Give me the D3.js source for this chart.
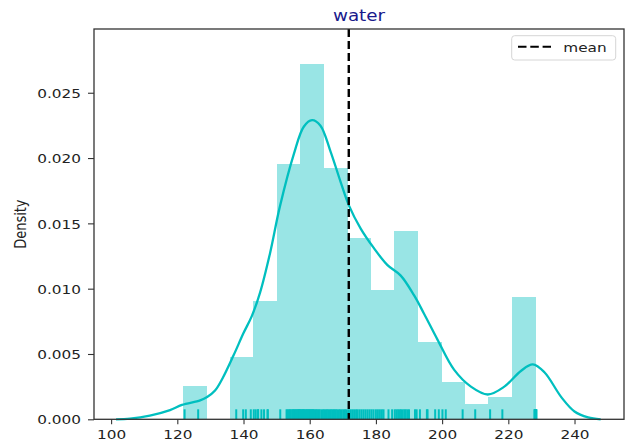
<!DOCTYPE html>
<html>
<head>
<meta charset="utf-8">
<script src="https://cdn.jsdelivr.net/npm/d3@7"></script>
<style>
  body { margin: 0; background: #fff; }
  text { font-family: "DejaVu Sans", sans-serif; fill: #222; }
</style>
</head>
<body>
<svg width="639" height="444"></svg>
<script>
// histogram bins (edges) and density heights
let binEdges = [121.6, 128.7, 135.8, 142.9, 150.0, 157.1, 164.2, 171.3, 178.4, 185.5, 192.6, 199.7, 206.8, 213.9, 221.0, 228.1];
let binDensity = [0.00255, 0, 0.00477, 0.00906, 0.01955, 0.02718, 0.01924, 0.01386, 0.0099, 0.01442, 0.00592, 0.00286, 0.00115, 0.00171, 0.00934];

// kde curve samples
let kdeX = [101.5, 105.7, 111.7, 117.8, 121.4, 126.9, 129.0, 131.4, 133.8, 137.0, 140.0, 142.5, 145.0, 148.0, 151.0, 155.2, 158.2, 160.7, 163.2, 166.3, 169.3, 171.8, 175.4, 179.4, 183.5, 187.5, 191.5, 194.5, 198.6, 203.6, 208.7, 213.8, 218.8, 223.8, 227.4, 230.9, 236.0, 240.0, 244.1, 247.9];
let kdeY = [0.0, 0.00005, 0.00028, 0.0007, 0.0011, 0.00145, 0.0017, 0.0022, 0.0032, 0.0049, 0.0066, 0.0079, 0.0097, 0.0127, 0.0163, 0.0203, 0.0224, 0.0229, 0.0225, 0.0205, 0.0182, 0.0164, 0.0146, 0.0131, 0.0118, 0.011, 0.0095, 0.0081, 0.0061, 0.0038, 0.0025, 0.0019, 0.0025, 0.0037, 0.0042, 0.0036, 0.0017, 0.0006, 0.00015, 0.0];

// rug observations
let rugValues = [
  122.2, 126.3,
  137.8, 139.9, 140.7, 142.2,
  143.1, 143.7, 144.4, 144.4, 145.4, 146.2, 147.3, 147.3,
  151.1, 153.0, 153.3, 153.7, 154.0, 154.3, 154.7, 155.0, 155.2, 155.5, 155.8, 156.0, 156.3, 156.5, 156.7, 156.9, 157.0,
  157.3, 157.5, 157.8, 158.0, 158.2, 158.4, 158.7, 159.0, 159.2, 159.5, 159.8, 160.0, 160.3, 160.5, 160.8, 161.0, 161.3, 161.7, 162.0, 162.3, 162.7, 163.0, 163.5, 164.0,
  164.4, 164.8, 165.2, 165.6, 166.0, 166.4, 166.8, 167.2, 167.5, 167.9, 168.3, 168.8, 169.2, 169.7, 170.2, 170.6, 171.0,
  171.6, 172.2, 172.8, 173.4, 174.0, 174.5, 175.1, 175.7, 176.3, 176.9, 177.5, 178.1,
  178.7, 179.3, 180.0, 180.6, 181.2, 181.8, 182.3, 183.8, 184.9,
  185.7, 186.2, 186.7, 187.2, 187.6, 188.1, 188.6, 189.0, 189.5, 190.0, 191.8, 192.3,
  193.3, 195.4, 195.6, 197.9, 199.0,
  200.1, 201.1, 206.2,
  210.0,
  214.5, 218.2,
  227.9, 228.0, 228.1, 228.2, 228.3, 228.3, 228.4, 228.5
];

let meanValue = 171.8;
let xTicks = [100, 120, 140, 160, 180, 200, 220, 240];
let yTicks = [0, 0.005, 0.01, 0.015, 0.02, 0.025];
let titleText = "water";
let yLabel = "Density";
let legendLabel = "mean";

let svg = d3.select("svg");
let plotLeft = 94, plotRight = 624, plotTop = 29, plotBottom = 419.3;
let stretch = 1.175; // the picture is a bit wider than tall

let x = d3.scaleLinear().domain([94.83, 254.95]).range([plotLeft, plotRight]);
let y = d3.scaleLinear().domain([0, 0.02988]).range([plotBottom, plotTop]);

let c = "#00bfbf";
let histFill = "rgb(153,229,229)";

// histogram
let bins = binDensity.map((d, i) => ({ x0: binEdges[i], x1: binEdges[i + 1], v: d }));
svg.append("g")
    .attr("shape-rendering", "crispEdges")
    .selectAll("rect")
    .data(bins.filter(d => d.v > 0))
    .join("rect")
    .attr("x", d => x(d.x0))
    .attr("width", d => x(d.x1) - x(d.x0) + 0.5)
    .attr("y", d => y(d.v))
    .attr("height", d => y(0) - y(d.v))
    .attr("fill", histFill);

// kde line
let line = d3.line()
    .x((d, i) => x(kdeX[i]))
    .y(d => y(d))
    .curve(d3.curveCatmullRom.alpha(0.5));
svg.append("path")
    .attr("d", line(kdeY))
    .attr("fill", "none")
    .attr("stroke", c)
    .attr("stroke-width", 2.3);

// rug
svg.append("g").selectAll("line")
    .data(rugValues)
    .join("line")
    .attr("x1", d => x(d)).attr("x2", d => x(d))
    .attr("y1", plotBottom).attr("y2", plotBottom - 10)
    .attr("stroke", c)
    .attr("stroke-width", 2);

// mean line
svg.append("line")
    .attr("x1", x(meanValue)).attr("x2", x(meanValue))
    .attr("y1", plotTop).attr("y2", plotBottom)
    .attr("stroke", "#000")
    .attr("stroke-width", 2.4)
    .attr("stroke-dasharray", "8,4");

// axes
let yAxis = svg.append("g")
    .attr("transform", `translate(${plotLeft},0)`)
    .call(d3.axisLeft(y).tickValues(yTicks).tickSize(6).tickSizeOuter(0).tickFormat(d3.format(".3f")));
yAxis.select(".domain").remove();
yAxis.selectAll("line").attr("stroke", "#333").attr("stroke-width", 1.1);
yAxis.selectAll("text")
    .attr("x", 0).attr("dy", "0.36em")
    .attr("transform", `translate(-13,0) scale(${stretch},1)`)
    .style("font-size", "13px")
    .attr("fill", "#222");

let xAxis = svg.append("g")
    .attr("transform", `translate(0,${plotBottom})`)
    .call(d3.axisBottom(x).tickValues(xTicks).tickSize(5).tickSizeOuter(0));
xAxis.select(".domain").remove();
xAxis.selectAll("line").attr("stroke", "#333").attr("stroke-width", 1.1);
xAxis.selectAll("text")
    .attr("y", 0).attr("dy", null)
    .attr("transform", `translate(0,19.5) scale(${stretch},1)`)
    .style("font-size", "13px")
    .attr("fill", "#222");

// frame
svg.append("rect")
    .attr("x", plotLeft).attr("y", plotTop)
    .attr("width", plotRight - plotLeft).attr("height", plotBottom - plotTop)
    .attr("fill", "none")
    .attr("stroke", "#333")
    .attr("stroke-width", 1.3);

// title and y label
svg.append("text")
    .attr("transform", `translate(${(plotLeft + plotRight) / 2},21) scale(${stretch},1)`)
    .attr("text-anchor", "middle")
    .style("font-size", "15.6px")
    .style("fill", "#1a1a8c")
    .text(titleText);

svg.append("text")
    .attr("transform", `translate(25.7,${(plotTop + plotBottom) / 2}) scale(${stretch},1) rotate(-90)`)
    .attr("text-anchor", "middle")
    .style("font-size", "13px")
    .text(yLabel);

// legend
let legend = svg.append("g");
legend.append("rect")
    .attr("x", 511.7).attr("y", 35.7)
    .attr("width", 104).attr("height", 24.3)
    .attr("rx", 3)
    .attr("fill", "#fff")
    .attr("stroke", "#d6d6d6");
legend.append("line")
    .attr("x1", 518).attr("x2", 551)
    .attr("y1", 46.7).attr("y2", 46.7)
    .attr("stroke", "#000")
    .attr("stroke-width", 2)
    .attr("stroke-dasharray", "8.5,3.8");
legend.append("text")
    .attr("transform", `translate(563.3,51.5) scale(${stretch},1)`)
    .style("font-size", "13px")
    .text(legendLabel);
</script>
</body>
</html>
